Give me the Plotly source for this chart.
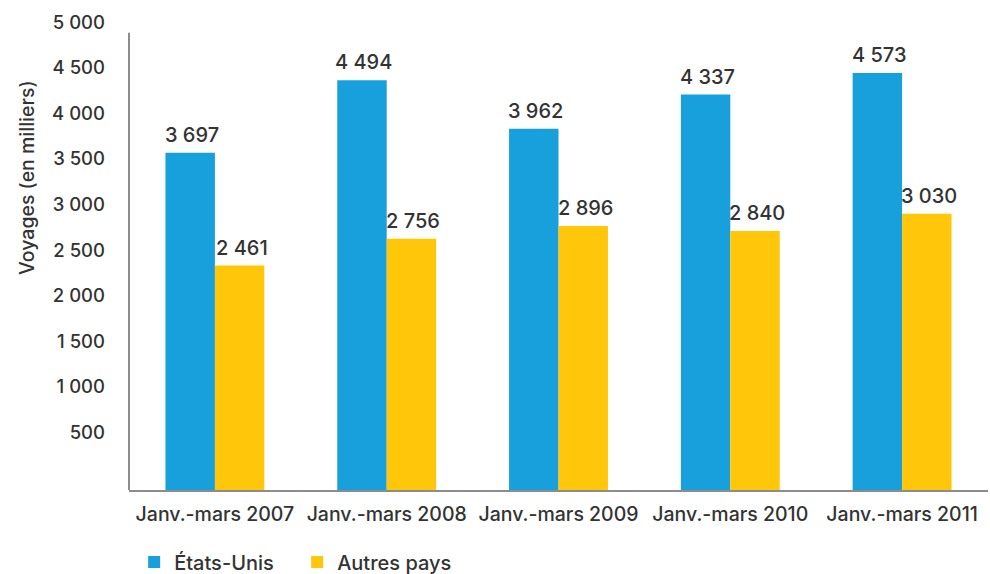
import plotly.graph_objects as go

# ---- data ----
categories = ["Janv.-mars 2007", "Janv.-mars 2008", "Janv.-mars 2009",
              "Janv.-mars 2010", "Janv.-mars 2011"]
etats_unis = [3697, 4494, 3962, 4337, 4573]
autres_pays = [2461, 2756, 2896, 2840, 3030]
series_names = ["États-Unis", "Autres pays"]
y_tick_values = [500, 1000, 1500, 2000, 2500, 3000, 3500, 4000, 4500, 5000]
y_title = "Voyages (en milliers)"

# ---- style ----
BLUE = "#17a0db"
YELLOW = "#ffc60a"
TEXT = "#333333"
AXIS = "#8c8c8c"
FONT = "Inter"
WEIGHT = 500
LABEL_SHIFT = 130      # tick labels in the original sit slightly above their value
AXIS_TOP = 5014        # top of the drawn vertical axis line
Y_MAX = 5143
BAR_HALF = 24.75       # half bar width in px, for centring value labels

def fmt(v):
    return f"{v:,}".replace(",", " ")

fig = go.Figure()
series = [(series_names[0], etats_unis, BLUE, -BAR_HALF),
          (series_names[1], autres_pays, YELLOW, BAR_HALF)]
for name, vals, col, _ in series:
    fig.add_trace(go.Bar(
        x=categories, y=vals, name=name, marker_color=col,
        marker_line_width=0,
    ))

for name, vals, col, dx in series:
    for c, v in zip(categories, vals):
        fig.add_annotation(x=c, y=v, xref="x", yref="y", text=fmt(v),
                           showarrow=False, xanchor="center", yanchor="middle",
                           xshift=dx + 2, yshift=18,
                           font=dict(family=FONT, size=20, color=TEXT, weight=WEIGHT))

fig.add_shape(type="line", xref="paper", yref="y", x0=0, x1=0,
              y0=0, y1=AXIS_TOP, line=dict(color=AXIS, width=2))

fig.add_annotation(text=y_title, xref="paper", yref="paper",
                   x=-0.119, y=0.667, textangle=-90, showarrow=False,
                   font=dict(family=FONT, size=19.5, color=TEXT, weight=WEIGHT),
                   xanchor="center", yanchor="middle")

fig.update_layout(
    width=990, height=574,
    margin=dict(l=129, r=2, t=21, b=84, autoexpand=False),
    plot_bgcolor="white", paper_bgcolor="white",
    barmode="group", bargap=0.4245, bargroupgap=0,
    font=dict(family=FONT, color=TEXT, weight=WEIGHT),
    showlegend=True,
    legend=dict(orientation="h", x=0.006, xanchor="left",
                y=-0.1535, yanchor="middle",
                font=dict(family=FONT, size=20, color=TEXT, weight=WEIGHT),
                entrywidth=118, entrywidthmode="pixels"),
    xaxis=dict(showline=True, linecolor=AXIS, linewidth=2, ticks="",
               showgrid=False, automargin=False,
               tickfont=dict(family=FONT, size=19.5, color=TEXT, weight=WEIGHT),
               ticklabelstandoff=6),
    yaxis=dict(range=[0, Y_MAX], showline=False, showgrid=False,
               zeroline=False, ticks="", automargin=False,
               tickvals=[v + LABEL_SHIFT for v in y_tick_values],
               ticktext=[fmt(v) for v in y_tick_values],
               tickfont=dict(family=FONT, size=18.5, color=TEXT, weight=WEIGHT),
               ticklabelstandoff=23),
)

# remove the page's default body margin so the figure sits at the window origin
fig.write_html("out.html", config={"displayModeBar": False},
               post_script="document.body.style.margin='0';document.body.style.overflow='hidden';")
